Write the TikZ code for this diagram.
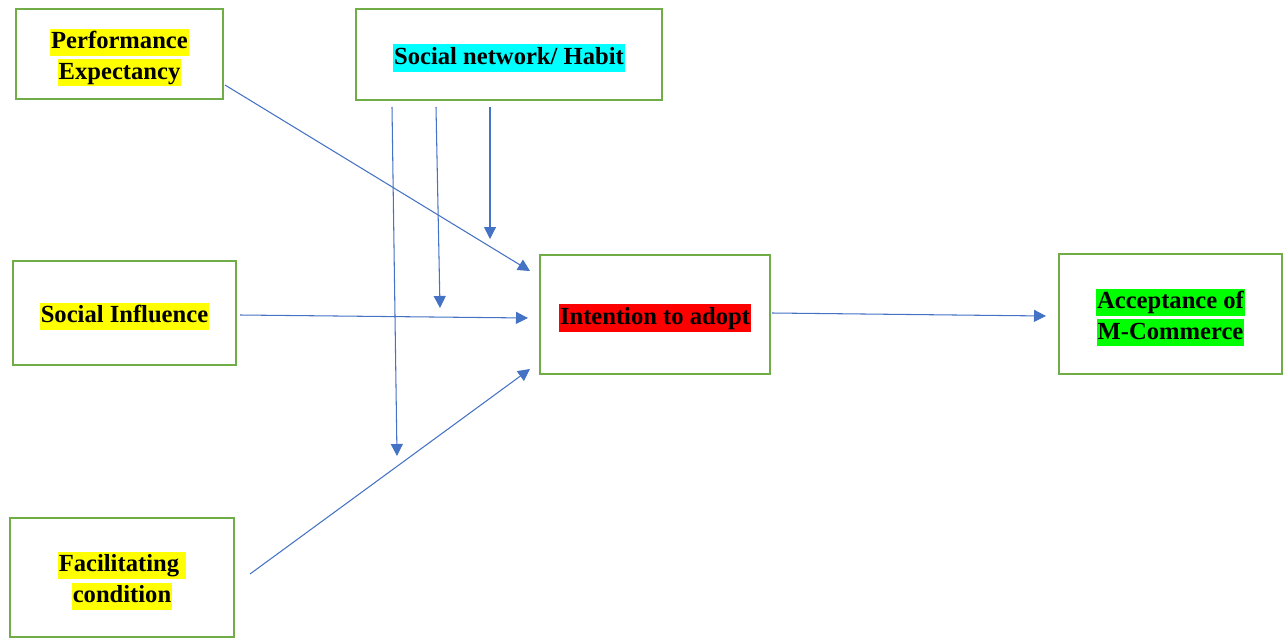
\documentclass[tikz,border=0pt]{standalone}
\usepackage{fontspec}
\setmainfont{Liberation Serif}
\usetikzlibrary{arrows.meta}
\definecolor{boxgreen}{RGB}{112, 173, 71}
\definecolor{arrowblue}{RGB}{68, 114, 196}
\definecolor{hlyellow}{RGB}{255, 255, 0}
\definecolor{hlcyan}{RGB}{0, 255, 255}
\definecolor{hlred}{RGB}{255, 0, 0}
\definecolor{hlgreen}{RGB}{0, 255, 0}
% highlighted line of text, drawn a little low
\newcommand{\hlt}[2]{{\setlength{\fboxsep}{0.6pt}\raisebox{-2pt}[\height][\depth]{\colorbox{#1}{\rule[-3.6pt]{0pt}{14.2pt}#2}}}}

\begin{document}
\begin{tikzpicture}[
    x=0.02cm, y=-0.02cm,
    every node/.style={font=\fontsize{14}{17.5}\selectfont\bfseries, align=center},
    box/.style={draw=boxgreen, line width=1.1pt, rectangle, inner sep=0pt, outer sep=0pt},
    link/.style={draw=arrowblue, line width=0.6pt, -{Triangle[length=0.24cm, width=0.24cm]}}
]
\useasboundingbox (0,0) rectangle (1288,639);

\node[box, minimum width=4.14cm, minimum height=1.8cm] (perf) at (119.5,54)
    {\hlt{hlyellow}{Performance}\\\hlt{hlyellow}{Expectancy}};
\node[box, minimum width=6.12cm, minimum height=1.82cm] (habit) at (509,54.5)
    {\hlt{hlcyan}{Social network/ Habit}};
\node[box, minimum width=4.46cm, minimum height=2.08cm] (influence) at (124.5,313)
    {\hlt{hlyellow}{Social Influence}};
\node[box, minimum width=4.48cm, minimum height=2.38cm] (facil) at (122,577.5)
    {\hlt{hlyellow}{Facilitating }\\\hlt{hlyellow}{condition}};
\node[box, minimum width=4.6cm, minimum height=2.38cm] (intent) at (655,314.5)
    {\hlt{hlred}{Intention to adopt}};
\node[box, minimum width=4.46cm, minimum height=2.4cm] (accept) at (1170.5,314)
    {\hlt{hlgreen}{Acceptance of}\\\hlt{hlgreen}{M-Commerce}};

% free ends of the connectors
\coordinate (perfOut) at (225,85);
\coordinate (perfIn) at (530,271);
\coordinate (inflOut) at (240,315);
\coordinate (inflIn) at (528,318);
\coordinate (facilOut) at (250,574);
\coordinate (facilIn) at (530,369);
\coordinate (intentOut) at (772,313);
\coordinate (acceptIn) at (1046,316);
\coordinate (habitA) at (392,107);
\coordinate (habitAEnd) at (397,456);
\coordinate (habitB) at (436,107);
\coordinate (habitBEnd) at (440,308);
\coordinate (habitC) at (490,107);
\coordinate (habitCEnd) at (490,239);

\draw[link] (perfOut) -- (perfIn);
\draw[link] (inflOut) -- (inflIn);
\draw[link] (facilOut) -- (facilIn);
\draw[link] (intentOut) -- (acceptIn);
\draw[link] (habitA) -- (habitAEnd);
\draw[link] (habitB) -- (habitBEnd);
\draw[link] (habitC) -- (habitCEnd);
\end{tikzpicture}
\end{document}
